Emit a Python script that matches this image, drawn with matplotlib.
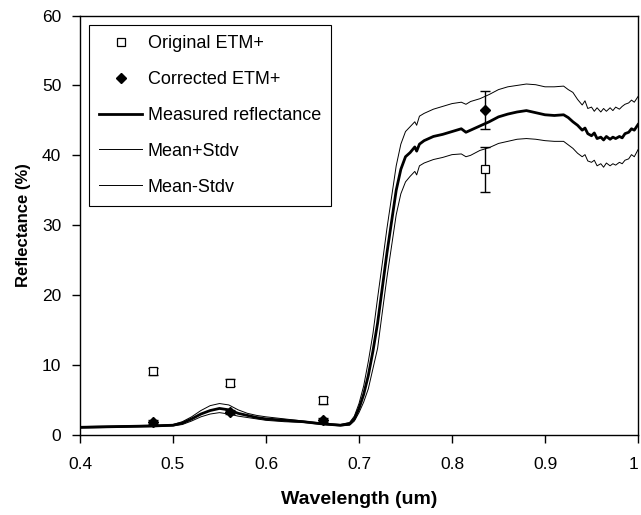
import matplotlib
matplotlib.use('Agg')
import matplotlib.pyplot as plt

plt.rcParams['font.family'] = ['Liberation Sans', 'DejaVu Sans']

# field spectrum: wavelength (um) and reflectance (%)
wavelength = [0.40, 0.42, 0.44, 0.46, 0.48, 0.50, 0.51, 0.52, 0.53, 0.54,
              0.55, 0.56, 0.57, 0.58, 0.59, 0.60, 0.62, 0.64, 0.66, 0.68,
              0.69, 0.695, 0.70, 0.705, 0.71, 0.715, 0.72, 0.725, 0.73, 0.735,
              0.74, 0.745, 0.75, 0.755, 0.76, 0.762, 0.765, 0.77, 0.78, 0.79,
              0.80, 0.81, 0.815, 0.82, 0.83, 0.84, 0.85, 0.86, 0.87, 0.88,
              0.89, 0.90, 0.91, 0.92, 0.925, 0.93, 0.935, 0.94, 0.943, 0.946,
              0.95, 0.953, 0.956, 0.96, 0.963, 0.966, 0.97, 0.973, 0.976, 0.98,
              0.983, 0.986, 0.99, 0.993, 0.996, 1.00]

mean_refl = [1.1, 1.15, 1.2, 1.25, 1.3, 1.4, 1.7, 2.3, 3.0, 3.5,
             3.8, 3.6, 3.1, 2.8, 2.5, 2.3, 2.1, 1.9, 1.6, 1.4,
             1.6, 2.3, 3.8, 5.8, 8.5, 12.0, 16.0, 21.0, 26.0, 30.5,
             35.0, 38.0, 39.8, 40.4, 41.2, 40.6, 41.6, 42.1, 42.7, 43.0,
             43.4, 43.8, 43.3, 43.6, 44.2, 44.8, 45.5, 45.9, 46.2, 46.4,
             46.1, 45.8, 45.7, 45.8, 45.4, 44.8, 44.3, 43.6, 43.9, 43.1,
             42.8, 43.2, 42.4, 42.6, 42.2, 42.7, 42.3, 42.6, 42.4, 42.7,
             42.5, 43.1, 43.3, 43.8, 43.6, 44.4]

upper_refl = [1.2, 1.25, 1.3, 1.35, 1.4, 1.5, 1.9, 2.6, 3.5, 4.2,
              4.5, 4.3, 3.6, 3.1, 2.8, 2.6, 2.3, 2.0, 1.7, 1.5,
              1.8, 2.7, 4.5, 7.0, 10.5, 14.5, 19.6, 24.5, 29.5, 34.0,
              38.5, 41.6, 43.4, 44.1, 44.8, 44.3, 45.6, 46.0, 46.6, 47.0,
              47.4, 47.6, 47.3, 47.7, 48.1, 48.7, 49.4, 49.8, 50.0, 50.2,
              50.1, 49.8, 49.8, 49.9, 49.4, 49.0, 48.0, 47.2, 47.8, 46.7,
              46.9, 46.3, 46.8, 46.2, 46.7, 46.3, 46.8, 46.4, 46.9, 46.6,
              47.0, 47.3, 47.5, 47.9, 47.6, 48.4]

lower_refl = [1.0, 1.05, 1.1, 1.15, 1.2, 1.3, 1.5, 2.0, 2.6, 3.0,
              3.2, 3.0, 2.7, 2.5, 2.3, 2.1, 1.9, 1.8, 1.5, 1.3,
              1.4, 2.0, 3.2, 4.7, 6.6, 9.5, 12.4, 17.5, 22.5, 27.0,
              31.5, 34.5, 36.2, 37.0, 37.7, 37.2, 38.5, 38.9, 39.4, 39.7,
              40.1, 40.2, 39.8, 40.0, 40.7, 41.1, 41.7, 42.0, 42.3, 42.4,
              42.3, 42.1, 42.0, 42.0, 41.5, 41.0, 40.3, 39.8, 40.1, 39.2,
              39.0, 39.3, 38.5, 38.8, 38.3, 38.9, 38.5, 38.8, 38.6, 39.0,
              38.8, 39.3, 39.5, 40.1, 39.8, 40.8]

# ETM+ band centres and reflectance
band_centre = [0.479, 0.561, 0.661, 0.835]
original_etm = [9.1, 7.5, 5.0, 38.0]
original_err = [0.5, 0.5, 0.5, 3.2]
corrected_etm = [1.9, 3.3, 2.2, 46.5]
corrected_err = [0.3, 0.3, 0.3, 2.7]

x_ticks = [0.4, 0.5, 0.6, 0.7, 0.8, 0.9, 1.0]
x_tick_labels = ['0.4', '0.5', '0.6', '0.7', '0.8', '0.9', '1']
y_ticks = [0, 10, 20, 30, 40, 50, 60]

fig = plt.figure(figsize=(6.41, 5.15), dpi=100)
ax = fig.add_axes([80 / 641, 1 - 435 / 515, 558 / 641, 419.5 / 515])

ax.plot(wavelength, mean_refl, color='black', lw=2.0, zorder=3)
ax.plot(wavelength, upper_refl, color='black', lw=0.7, zorder=2)
ax.plot(wavelength, lower_refl, color='black', lw=0.7, zorder=2)

ax.errorbar(band_centre, original_etm, yerr=original_err, fmt='none',
            ecolor='black', elinewidth=1.0, capsize=3.3, capthick=1.0, zorder=4)
ax.errorbar(band_centre, corrected_etm, yerr=corrected_err, fmt='none',
            ecolor='black', elinewidth=1.0, capsize=3.3, capthick=1.0, zorder=4)

h1, = ax.plot(band_centre, original_etm, 's', ms=5.5, mfc='white', mec='black',
              mew=0.9, ls='none', zorder=5)
h2, = ax.plot(band_centre, corrected_etm, 'D', ms=5.5, color='black', ls='none', zorder=5)

# legend handles (lines drawn without the error bars)
h3, = ax.plot([], [], color='black', lw=2.0)
h4, = ax.plot([], [], color='black', lw=0.7)
h5, = ax.plot([], [], color='black', lw=0.7)

leg = ax.legend([h1, h2, h3, h4, h5],
                ['Original ETM+', 'Corrected ETM+', 'Measured reflectance',
                 'Mean+Stdv', 'Mean-Stdv'],
                loc='upper left', bbox_to_anchor=(9 / 558, 1 - 9.5 / 419.5),
                borderaxespad=0, fontsize=13, frameon=True, fancybox=False,
                edgecolor='black', framealpha=1, handlelength=2.4,
                handletextpad=0.3, labelspacing=1.05, borderpad=0.55)
leg.get_frame().set_linewidth(0.8)

ax.set_xlim(0.4, 1.0)
ax.set_ylim(0, 60)
ax.set_xticks(x_ticks)
ax.set_xticklabels(x_tick_labels)
ax.set_yticks(y_ticks)
ax.tick_params(direction='out', length=5.5, width=1, labelsize=12.5, colors='black')
ax.tick_params(axis='x', pad=10)
ax.tick_params(axis='y', pad=8)
# keep the last tick label inside the figure
ax.get_xticklabels()[-1].set_horizontalalignment('right')
for s in ax.spines.values():
    s.set_linewidth(1.0)

ax.set_xlabel('Wavelength (um)', fontsize=14, fontweight='bold', labelpad=14)
ax.set_ylabel('Reflectance (%)', fontsize=12, fontweight='bold', labelpad=8)

fig.savefig('out.png', dpi=100)
